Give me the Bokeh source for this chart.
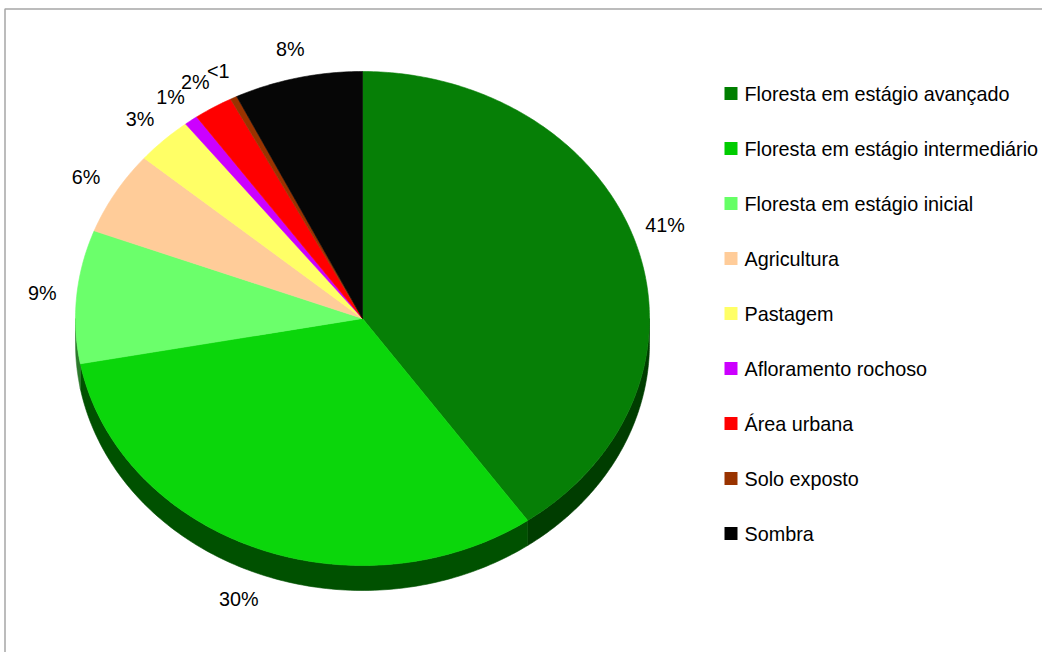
import numpy as np
from bokeh.plotting import figure
from bokeh.models import Range1d, ColumnDataSource
from bokeh.embed import file_html
from bokeh.resources import INLINE
from bokeh.core.properties import value

# ---- data ----
categories = ["Floresta em estágio avançado", "Floresta em estágio intermediário",
              "Floresta em estágio inicial", "Agricultura", "Pastagem",
              "Afloramento rochoso", "Área urbana", "Solo exposto", "Sombra"]
values = [40.6, 30.4, 8.7, 5.6, 3.3, 0.8, 2.3, 0.4, 7.6]
labels = ["41%", "30%", "9%", "6%", "3%", "1%", "2%", "<1", "8%"]
colors = ["#067f06", "#0bd60b", "#6bff6b", "#ffcc99", "#ffff66",
          "#cc00ff", "#ff0000", "#993300", "#060606"]
side_colors = ["#003d00", "#005100", "#2c7a2c", "#8a6d52", "#8a8a37",
               "#6e008a", "#8a0000", "#521b00", "#000000"]
legend_colors = ["#007f00", "#00cc00", "#66ff66", "#ffcc99", "#ffff66",
                 "#cc00ff", "#ff0000", "#993300", "#000000"]

# ---- layout ----
W, H = 1042, 652
CX, CY, RX, RY, DEPTH = 362, 318, 287, 247, 25
PERSP = 0.055          # apparent perspective: far side compressed, near side enlarged
FONT = "Liberation Sans"
FS = "19.8px"

p = figure(width=W, height=H, output_backend="svg", toolbar_location=None,
           x_range=Range1d(0, W), y_range=Range1d(H, 0), min_border=0)
p.axis.visible = False
p.grid.visible = False
p.outline_line_color = None
p.background_fill_color = "white"
p.border_fill_color = "white"

# frame border (only top and left visible in window)
p.quad(left=[4.5], right=[W + 50], top=[8.5], bottom=[H + 50],
       fill_color=None, line_color="#a6a6a6", line_width=1.5)

vals = np.array(values, dtype=float)
frac = vals / vals.sum()
ends_t = np.cumsum(frac) * 2 * np.pi
starts_t = np.concatenate([[0.0], ends_t[:-1]])

def proj(t):
    return t - PERSP * np.sin(t)

starts, ends = proj(starts_t), proj(ends_t)

def ex(t):
    return CX + RX * np.sin(t)

def ey(t):
    return CY - RY * np.cos(t)

# side walls (front half only)
sxs, sys, scol = [], [], []
for a, b, c in zip(starts, ends, side_colors):
    lo, hi = max(a, np.pi / 2), min(b, 3 * np.pi / 2)
    if hi > lo:
        t = np.linspace(lo, hi, 120)
        xs = np.concatenate([ex(t), ex(t[::-1])])
        ys = np.concatenate([ey(t), ey(t[::-1]) + DEPTH])
        sxs.append(list(xs)); sys.append(list(ys)); scol.append(c)
p.patches(sxs, sys, fill_color=scol, line_color=scol, line_width=0.6)

# top faces
txs, tys = [], []
for a, b in zip(starts, ends):
    t = np.linspace(a, b, max(8, int((b - a) * 80)))
    txs.append([CX] + list(ex(t)))
    tys.append([CY] + list(ey(t)))
p.patches(txs, tys, fill_color=colors, line_color=colors, line_width=0.6)

# data labels
mid = proj((starts_t + ends_t) / 2)
k = 1.12
lx = CX + RX * k * np.sin(mid)
ly = CY - RY * k * np.cos(mid) + np.where(np.cos(mid) < 0, DEPTH, 0)
p.text(x=list(lx), y=list(ly), text=labels, text_font=value(FONT),
       text_font_size=FS, text_align="center", text_baseline="middle",
       text_color="black")

# legend
n = len(categories)
ly0, dy = 93, 55
rows = [ly0 + i * dy for i in range(n)]
leg = ColumnDataSource(dict(x=[730.5] * n, y=rows, c=legend_colors,
                            tx=[744] * n, t=categories))
p.rect(x="x", y="y", width=13, height=13, fill_color="c", line_color=None, source=leg)
p.text(x="tx", y="y", text="t", text_font=value(FONT), text_font_size=FS,
       text_align="left", text_baseline="middle", text_color="black", source=leg)

open("out.html", "w").write(file_html(p, INLINE))
